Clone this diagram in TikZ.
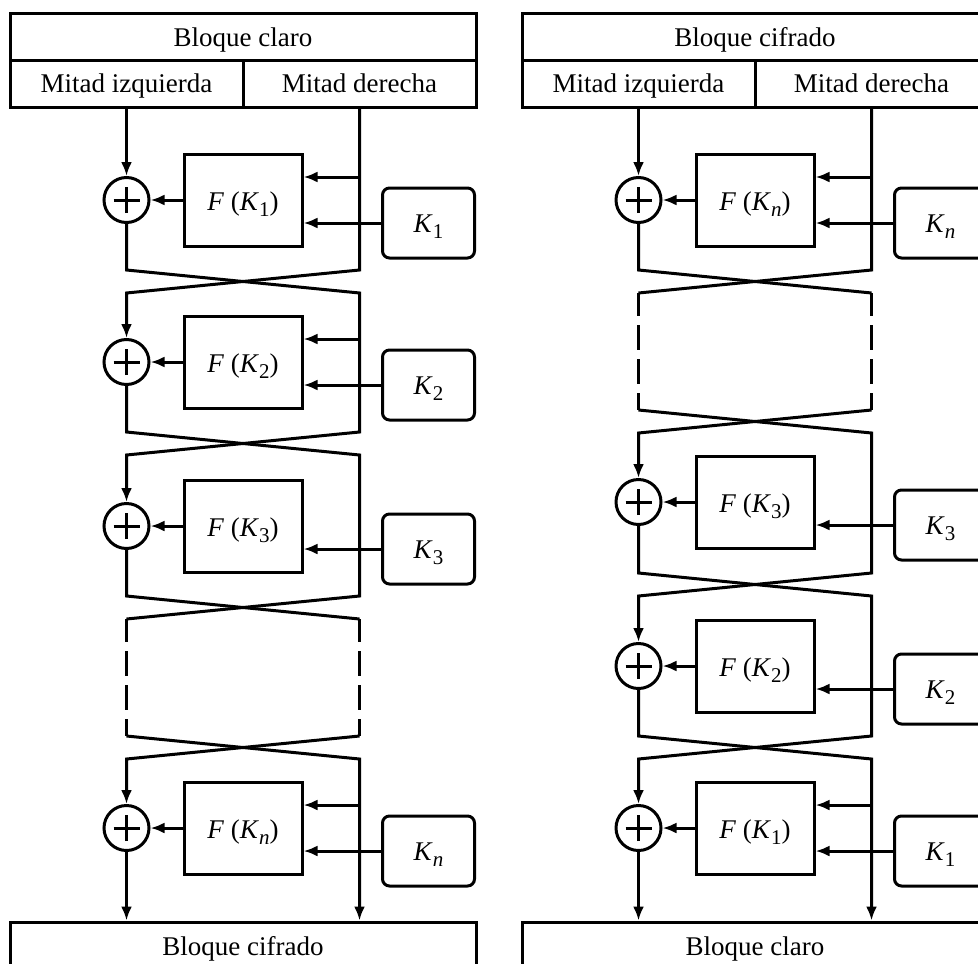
\documentclass[tikz,border=0pt]{standalone}
\usepackage{fontspec}
\setmainfont{Liberation Serif}
\usetikzlibrary{arrows.meta,positioning,calc}
\tikzset{
  txt/.style ={text height=9.5pt,text depth=0pt},
  hdr/.style ={draw,txt,minimum width=233pt,minimum height=23.5pt,inner sep=0pt},
  half/.style={draw,text height=8.7pt,text depth=0pt,minimum width=116.5pt,minimum height=23pt,inner sep=0pt},
  fbox/.style={draw,text height=10pt,text depth=0pt,minimum width=59pt,minimum height=46pt,inner sep=0pt},
  kbox/.style={draw,txt,rounded corners=3.5pt,minimum width=46pt,minimum height=35pt,inner sep=0pt},
  xor/.style ={draw,circle,minimum size=22.5pt,inner sep=0pt,
    path picture={\draw ([xshift=-6.5pt]path picture bounding box.center) -- ([xshift=6.5pt]path picture bounding box.center)
      ([yshift=-6.5pt]path picture bounding box.center) -- ([yshift=6.5pt]path picture bounding box.center);}},
  ar/.style  ={-{Latex[length=7pt,width=5.5pt]}},
  brk/.style ={dash pattern=on 12.5pt off 4.5pt,dash phase=1pt},
}
\newcommand{\sbs}[1]{\raisebox{-3.2pt}{\fontsize{10.5}{10}\selectfont #1}}
\newcommand{\fk}[1]{\textit{F} (\textit{K}\sbs{#1})}
\newcommand{\kk}[1]{\textit{K}\sbs{#1}}

\begin{document}
\begin{tikzpicture}[x=0.5pt,y=-0.5pt,line width=1.5pt,font=\fontsize{13.5}{16}\selectfont]
  \useasboundingbox (0,0) rectangle (978,963);
  \clip (0,0) rectangle (978,963);

  % cifrado
  \node[hdr] (Lhead) at (243,37.5) {Bloque claro};
  \node[half] (Lizq) at (126.5,84) {Mitad izquierda};
  \node[half] (Lder) at (359.5,84) {Mitad derecha};
  \node[hdr] (Lfoot) at (243,945.5) {Bloque cifrado};
  \foreach \i/\yc/\rk/\two in {1/200/1/1,2/362/2/1,3/526/3/0,4/828/{\textit{n}}/1}{
    \node[xor] (Lx\i) at (126.5,\yc) {};
    \node[fbox] (Lf\i) at (243,\yc) {\fk{\rk}};
    \node[kbox] (Lk\i) at (428.5,\yc+23) {\kk{\rk}};
    \coordinate (Lt\i) at (359.5,\yc-23);
    \draw[ar] (Lf\i) -- (Lx\i);
    \draw[ar] (Lk\i) -- (Lk\i -| Lf\i.east);
    \ifnum\two=1 \draw[ar] (Lt\i) -- (Lt\i -| Lf\i.east); \fi
  }
  \foreach \j/\yt in {1/270,2/432,3/596,4/736}{
    \coordinate (Ltl\j) at (126.5,\yt);    \coordinate (Ltr\j) at (359.5,\yt);
    \coordinate (Lbl\j) at (126.5,\yt+23); \coordinate (Lbr\j) at (359.5,\yt+23);
  }
  \draw[ar] (Lizq) -- (Lx1);
  \draw[ar] (Lder) -- (Ltr1) -- (Lbl1) -- (Lx2);
  \draw[ar] (Lx1) -- (Ltl1) -- (Lbr1) -- (Ltr2) -- (Lbl2) -- (Lx3);
  \draw (Lx2) -- (Ltl2) -- (Lbr2) -- (Ltr3) -- (Lbl3);
  \draw (Lx3) -- (Ltl3) -- (Lbr3);
  \draw[brk] (Lbl3) -- (Ltl4);
  \draw[brk] (Lbr3) -- (Ltr4);
  \draw[ar] (Ltr4) -- (Lbl4) -- (Lx4);
  \draw[ar] (Ltl4) -- (Lbr4) -- (Lbr4 |- Lfoot.north);
  \draw[ar] (Lx4) -- (Lx4 |- Lfoot.north);

  % descifrado
  \begin{scope}[xshift=256pt]
    \node[hdr] (Rhead) at (243,37.5) {Bloque cifrado};
    \node[half] (Rizq) at (126.5,84) {Mitad izquierda};
    \node[half] (Rder) at (359.5,84) {Mitad derecha};
    \node[hdr] (Rfoot) at (243,945.5) {Bloque claro};
    \foreach \i/\yc/\rk/\two in {1/200/{\textit{n}}/1,2/502/3/0,3/666/2/0,4/828/1/1}{
      \node[xor] (Rx\i) at (126.5,\yc) {};
      \node[fbox] (Rf\i) at (243,\yc) {\fk{\rk}};
      \node[kbox] (Rk\i) at (428.5,\yc+23) {\kk{\rk}};
      \coordinate (Rt\i) at (359.5,\yc-23);
      \draw[ar] (Rf\i) -- (Rx\i);
      \draw[ar] (Rk\i) -- (Rk\i -| Rf\i.east);
      \ifnum\two=1 \draw[ar] (Rt\i) -- (Rt\i -| Rf\i.east); \fi
    }
    \foreach \j/\yt in {1/270,2/410,3/573,4/736}{
      \coordinate (Rtl\j) at (126.5,\yt);    \coordinate (Rtr\j) at (359.5,\yt);
      \coordinate (Rbl\j) at (126.5,\yt+23); \coordinate (Rbr\j) at (359.5,\yt+23);
    }
    \draw[ar] (Rizq) -- (Rx1);
    \draw (Rder) -- (Rtr1) -- (Rbl1);
    \draw (Rx1) -- (Rtl1) -- (Rbr1);
    \draw[brk] (Rbl1) -- (Rtl2);
    \draw[brk] (Rbr1) -- (Rtr2);
    \draw[ar] (Rtr2) -- (Rbl2) -- (Rx2);
    \draw[ar] (Rtl2) -- (Rbr2) -- (Rtr3) -- (Rbl3) -- (Rx3);
    \draw[ar] (Rx2) -- (Rtl3) -- (Rbr3) -- (Rtr4) -- (Rbl4) -- (Rx4);
    \draw[ar] (Rx3) -- (Rtl4) -- (Rbr4) -- (Rbr4 |- Rfoot.north);
    \draw[ar] (Rx4) -- (Rx4 |- Rfoot.north);
  \end{scope}
\end{tikzpicture}
\end{document}
